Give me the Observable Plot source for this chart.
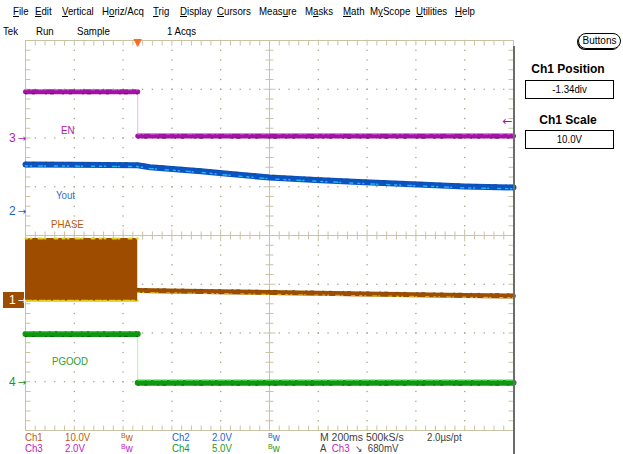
<!DOCTYPE html>
<html><head><meta charset="utf-8">
<script src="https://cdn.jsdelivr.net/npm/d3@7"></script>
<script src="https://cdn.jsdelivr.net/npm/@observablehq/plot@0.6"></script>
<style>
body{margin:0;background:#fff;}
#wrap{position:relative;width:623px;height:454px;overflow:hidden;font-family:"Liberation Sans",Arial,sans-serif;font-size:11px;color:#000;}
#wrap svg{position:absolute;left:0;top:0;}
.t{position:absolute;white-space:nowrap;line-height:11px;transform:scaleX(0.88);transform-origin:0 0;}
.ro{line-height:10px;height:10px;}
.u{text-decoration:underline;}
.bw b{font-weight:normal;font-size:8px;position:relative;top:-3px;}
.ar{font-family:"DejaVu Sans",sans-serif;font-size:10px;}
.box{position:absolute;border:1px solid #000;text-align:center;line-height:17px;font-size:11px;}
.box span{display:inline-block;transform:scaleX(0.88);}
.hd{position:absolute;width:110px;left:513px;text-align:center;font-family:"Liberation Sans",Arial,sans-serif;font-weight:bold;font-size:12px;line-height:12px;}
</style></head>
<body><div id="wrap"></div>
<script>
// ---------- data ----------
const menuItems = ["File","Edit","Vertical","Horiz/Acq","Trig","Display","Cursors","Measure","Masks","Math","MyScope","Utilities","Help"];
const menuUnderline = [0,0,0,1,0,0,0,4,1,0,1,0,0];
const statusItems = ["Tek","Run","Sample","1 Acqs"];

const chNames = ["Ch1","Ch2","Ch3","Ch4"];
const chScaleV = [10, 2, 2, 5];          // V/div
const chScaleText = ["10.0V","2.0V","2.0V","5.0V"];
const chOffsetDiv = [-1.34, 0.49, 2.0, -3.02]; // ground position, div
const chMarkLabel = ["1","2","3","4"];
const traceLabels = ["PHASE","Yout","EN","PGOOD"];

const timePerDiv = 0.2;   // s
const trigTime = 0.46;    // s
const trigLevelV = 0.68;  // V on Ch3

// EN (Ch3)
const enT = [0, 0.46, 0.46, 2.0];
const enV = [1.9, 1.9, 0.08, 0.08];
// Vout (Ch2)
const voutT = [0, 0.20, 0.46, 0.51, 0.72, 0.84, 1.00, 1.19, 1.39, 1.61, 1.80, 2.00];
const voutV = [1.93, 1.92, 1.90, 1.82, 1.66, 1.54, 1.40, 1.30, 1.20, 1.11, 1.03, 0.99];
// PHASE (Ch1): switching band then decaying line
const phaseSwT = [0, 0.46];
const phaseHiV = 12.8;
const phaseLoV = -0.2;
const phaseT = [0.46, 0.72, 1.00, 1.39, 1.80, 2.00];
const phaseV = [2.1, 1.9, 1.7, 1.4, 1.1, 1.0];
// PGOOD (Ch4)
const pgT = [0, 0.46, 0.46, 2.0];
const pgV = [5.0, 5.0, 0.0, 0.0];

// ---------- helpers ----------
const toDiv = (ch, v) => chOffsetDiv[ch] + v / chScaleV[ch];
function stepData(T, V, ch) {
  let seg = 0;
  return T.map((t, i) => {
    if (i > 0 && t === T[i - 1]) seg++;
    return {t, y: toDiv(ch, V[i]), seg};
  });
}
const enData = stepData(enT, enV, 2);
const pgData = stepData(pgT, pgV, 3);
const voutData = voutT.map((t, i) => ({t, y: toDiv(1, voutV[i])}));
const phaseData = phaseT.map((t, i) => ({t, y: toDiv(0, phaseV[i])}));
const phaseSw = phaseSwT.map(t => ({t, lo: toDiv(0, phaseLoV), hi: toDiv(0, phaseHiV)}));

// graticule
const T0 = 0, T1 = 10 * timePerDiv, tMid = 5 * timePerDiv;
const minorT = timePerDiv / 5;
const xMinor = d3.range(0, 51).map(k => k * minorT);
const yMinor = d3.range(-20, 21).map(k => k * 0.2);
const xMajor = d3.range(1, 10).filter(k => k !== 5).map(k => k * timePerDiv);
const yMajor = d3.range(-3, 4).filter(k => k !== 0);
const gridDots = [];
for (const x of xMajor) for (const y of yMinor) gridDots.push({x, y});
for (const y of yMajor) for (const x of xMinor) gridDots.push({x, y});
const pxX = timePerDiv / 48.8, pxY = 1 / 48.75;
const ticks = [];
xMinor.forEach((x, k) => {
  const h = (k % 5 === 0 ? 6 : 4) * pxY;
  ticks.push({x1: x, x2: x, y1: -h, y2: h});
  ticks.push({x1: x, x2: x, y1: 4, y2: 4 - 5 * pxY});
  ticks.push({x1: x, x2: x, y1: -4, y2: -4 + 5 * pxY});
});
yMinor.forEach((y, k) => {
  const h = (k % 5 === 0 ? 6 : 4) * pxX;
  ticks.push({x1: tMid - h, x2: tMid + h, y1: y, y2: y});
  ticks.push({x1: T0, x2: T0 + 5 * pxX, y1: y, y2: y});
  ticks.push({x1: T1, x2: T1 - 5 * pxX, y1: y, y2: y});
});

const gc = "#c9c2a4", dotC = "#aaa38a";
const cBrown = "#9e4c00", cBlue = "#0b52c4", cMag = "#a212a6", cGreen = "#119611";
const noiseA = "2,3,1,7,4,2,1,9,3,5";
const noiseB = "1,6,2,11,1,4,3,9";

const chart = Plot.plot({
  width: 623, height: 454,
  marginTop: 40, marginBottom: 24, marginLeft: 25, marginRight: 110,
  x: {domain: [T0, T1], axis: null},
  y: {domain: [-4, 4], axis: null},
  style: {background: "transparent", overflow: "visible", fontFamily: "Liberation Sans, sans-serif"},
  marks: [
    Plot.dot(gridDots, {x: "x", y: "y", r: 0.8, fill: dotC, stroke: null}),
    Plot.ruleX([tMid], {stroke: gc}),
    Plot.ruleY([0], {stroke: gc}),
    Plot.link(ticks, {x1: "x1", y1: "y1", x2: "x2", y2: "y2", stroke: gc}),
    Plot.frame({stroke: gc}),
    // PHASE
    Plot.areaY(phaseSw, {x: "t", y1: "lo", y2: "hi", fill: cBrown}),
    Plot.line(phaseSw, {x: "t", y: "hi", stroke: "#e2d21e", strokeWidth: 2, strokeDasharray: noiseA}),
    Plot.line(phaseSw, {x: "t", y: "lo", stroke: "#e2d21e", strokeWidth: 2, strokeDasharray: "6,2,3,3", dy: -1}),
    Plot.line(phaseData, {x: "t", y: "y", stroke: cBrown, strokeWidth: 5}),
    Plot.line(phaseData, {x: "t", y: "y", stroke: "#dccb20", strokeWidth: 1.3, strokeDasharray: noiseA, dy: 1.8, opacity: 0.8}),
    Plot.line(phaseData, {x: "t", y: "y", stroke: "#5a4a00", strokeWidth: 1, strokeDasharray: noiseB, dy: -2.2, opacity: 0.7}),
    // Vout
    Plot.line(voutData, {x: "t", y: "y", stroke: cBlue, strokeWidth: 6}),
    Plot.line(voutData, {x: "t", y: "y", stroke: "#2ac4e6", strokeWidth: 1.5, strokeDasharray: noiseA, dy: 1.3, opacity: 0.85}),
    Plot.line(voutData, {x: "t", y: "y", stroke: "#124a5a", strokeWidth: 1, strokeDasharray: noiseB, dy: -2.3, opacity: 0.7}),
    // EN
    Plot.line(enData, {x: "t", y: "y", stroke: "#f0b4f0", strokeWidth: 1}),
    Plot.line(enData, {x: "t", y: "y", z: "seg", stroke: cMag, strokeWidth: 5}),
    Plot.line(enData, {x: "t", y: "y", z: "seg", stroke: "#e888e8", strokeWidth: 1.1, strokeDasharray: noiseA, dy: -2, opacity: 0.8}),
    Plot.line(enData, {x: "t", y: "y", z: "seg", stroke: "#4a004a", strokeWidth: 1, strokeDasharray: noiseB, dy: 2.2, opacity: 0.7}),
    // PGOOD
    Plot.line(pgData, {x: "t", y: "y", stroke: "#b8ecb8", strokeWidth: 1}),
    Plot.line(pgData, {x: "t", y: "y", z: "seg", stroke: cGreen, strokeWidth: 6}),
    Plot.line(pgData, {x: "t", y: "y", z: "seg", stroke: "#48d848", strokeWidth: 1.1, strokeDasharray: "7,2,4,3", dy: -2.4, opacity: 0.85}),
    Plot.line(pgData, {x: "t", y: "y", z: "seg", stroke: "#004a00", strokeWidth: 1, strokeDasharray: noiseB, dy: 2.4, opacity: 0.7}),
    // trigger position and level
    Plot.text([trigTime], {x: d => d, y: () => 4, text: () => "▼", fill: "#ff6a1a", fontSize: 11, lineAnchor: "middle", dy: 1.5, fontFamily: "DejaVu Sans"}),
    Plot.text([trigLevelV], {x: () => T1, y: v => toDiv(2, v), text: () => "←", fill: cMag, fontSize: 12, textAnchor: "end", dx: -1, fontFamily: "DejaVu Sans"})
  ]
});
const wrap = document.getElementById("wrap");
wrap.appendChild(chart);

const ys = chart.scale("y");
const py = v => (ys && ys.apply) ? ys.apply(v) : 40 + (4 - v) / 8 * 390;

function add(html, x, y, style = "", cls = "t") {
  const d = document.createElement("div");
  d.className = cls;
  d.style.cssText = `left:${x}px;top:${y}px;` + style;
  d.innerHTML = html;
  wrap.appendChild(d);
  return d;
}

// menu bar
const menuX = [13, 35, 62, 102, 153, 180, 217, 259, 305, 343, 370, 416, 455];
menuItems.forEach((m, i) => {
  const k = menuUnderline[i];
  add(m.slice(0, k) + `<span class="u">${m[k]}</span>` + m.slice(k + 1), menuX[i], 6);
});
const statusX = [3, 36, 77, 167];
statusItems.forEach((s, i) => add(s, statusX[i], 26));

// channel ground markers
const markColors = [cBrown, "#1f5fc8", "#b01cb0", "#1c961c"];
chMarkLabel.forEach((lab, ch) => {
  const y = py(toDiv(ch, 0));
  if (ch === 0) {
    add("", 3, y - 8, `width:21px;height:16px;background:${cBrown};transform:none;`);
  }
  add(`${lab}<span class="ar">&thinsp;→</span>`, 9, y - 6,
      `color:${ch === 0 ? "#fff" : markColors[ch]};font-size:12px;line-height:12px;transform:none;`);
});

// trace labels
const labelPos = [[51, 219], [56, 190], [61, 125], [52, 356]];
const labelColors = ["#b45a14", "#2f6fd0", "#a81aa8", "#2ea02e"];
traceLabels.forEach((l, i) => add(l, labelPos[i][0], labelPos[i][1], `color:${labelColors[i]};`));

// bottom readout
const roColors = ["#b8600c", "#2a62d2", "#c01cc0", "#1e9a1e"];
const rows = [432, 443];
[[0, 1], [2, 3]].forEach((pair, r) => {
  pair.forEach((ch, j) => {
    const x0 = j === 0 ? 25 : 172;
    add(chNames[ch], x0, rows[r], `color:${roColors[ch]};`, "t ro");
    add(chScaleText[ch], x0 + 40, rows[r], `color:${roColors[ch]};`, "t ro");
    add(`<span class="bw"><b>B</b>w</span>`, x0 + 96, rows[r], `color:${roColors[ch]};`, "t ro");
  });
});
add("M 200ms 500kS/s", 320, rows[0], "color:#404040;transform:scaleX(0.95);", "t ro");
add("2.0µs/pt", 427, rows[0], "color:#404040;", "t ro");
add(`A&nbsp;&nbsp;<span style="color:#c01cc0">Ch3</span>&nbsp;&nbsp;<span class="ar">↘</span>&nbsp;&nbsp;680mV`, 320, rows[1], "color:#404040;", "t ro");

// right panel
add("", 513, 46, "width:2px;height:420px;background:#6c6c6c;transform:none;");
add("Buttons", 578, 33, "width:41px;height:14px;line-height:14px;border:1px solid #000;border-radius:8px;text-align:center;font-size:10px;box-shadow:-1px 1px 0 #000;transform:none;");
add("Ch1 Position", 513, 63, "", "hd");
add("<span>-1.34div</span>", 525, 80, "width:87px;height:17px;", "box");
add("Ch1 Scale", 513, 114, "", "hd");
add("<span>10.0V</span>", 525, 130, "width:87px;height:17px;", "box");
</script>
</body></html>
